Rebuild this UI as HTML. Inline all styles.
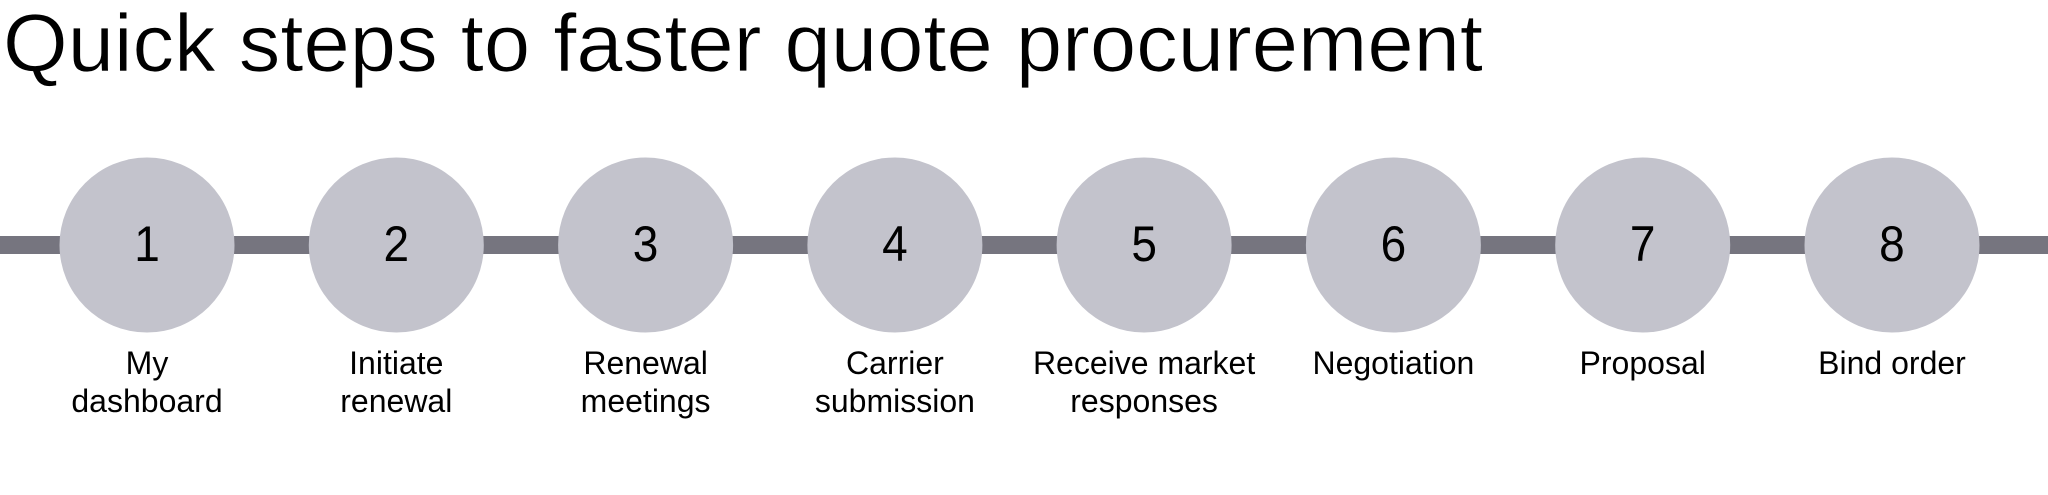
<!DOCTYPE html>
<html><head><meta charset="utf-8"><style>
html,body{margin:0;padding:0;background:#fff;}
svg{display:block;}
</style></head><body>
<svg width="2048" height="495" viewBox="0 0 2048 495" xmlns="http://www.w3.org/2000/svg">
<text x="3" y="71" font-family="Liberation Sans, sans-serif" font-size="82" fill="#000" stroke="#fff" stroke-width="0.8" textLength="1480" lengthAdjust="spacingAndGlyphs">Quick steps to faster quote procurement</text>
<rect x="0" y="236" width="2048" height="18" fill="#76757f"/>
<g fill="#c3c3cc">
<circle cx="147" cy="245" r="87.5"/>
<circle cx="396.3" cy="245" r="87.5"/>
<circle cx="645.6" cy="245" r="87.5"/>
<circle cx="894.9" cy="245" r="87.5"/>
<circle cx="1144.1" cy="245" r="87.5"/>
<circle cx="1393.4" cy="245" r="87.5"/>
<circle cx="1642.7" cy="245" r="87.5"/>
<circle cx="1892" cy="245" r="87.5"/>
</g>
<g font-family="Liberation Sans, sans-serif" font-size="50" fill="#000" text-anchor="middle" transform="scale(0.92,1)">
<text x="159.8" y="261">1</text>
<text x="430.8" y="261">2</text>
<text x="701.7" y="261">3</text>
<text x="972.7" y="261">4</text>
<text x="1243.6" y="261">5</text>
<text x="1514.6" y="261">6</text>
<text x="1785.5" y="261">7</text>
<text x="2056.5" y="261">8</text>
</g>
<g font-family="Liberation Sans, sans-serif" font-size="32" fill="#000" text-anchor="middle">
<text x="147" y="374">My</text><text x="147" y="412">dashboard</text>
<text x="396.3" y="374">Initiate</text><text x="396.3" y="412">renewal</text>
<text x="645.6" y="374">Renewal</text><text x="645.6" y="412">meetings</text>
<text x="894.9" y="374">Carrier</text><text x="894.9" y="412">submission</text>
<text x="1144.1" y="374">Receive market</text><text x="1144.1" y="412">responses</text>
<text x="1393.4" y="374">Negotiation</text>
<text x="1642.7" y="374">Proposal</text>
<text x="1892" y="374">Bind order</text>
</g>
</svg>
</body></html>
